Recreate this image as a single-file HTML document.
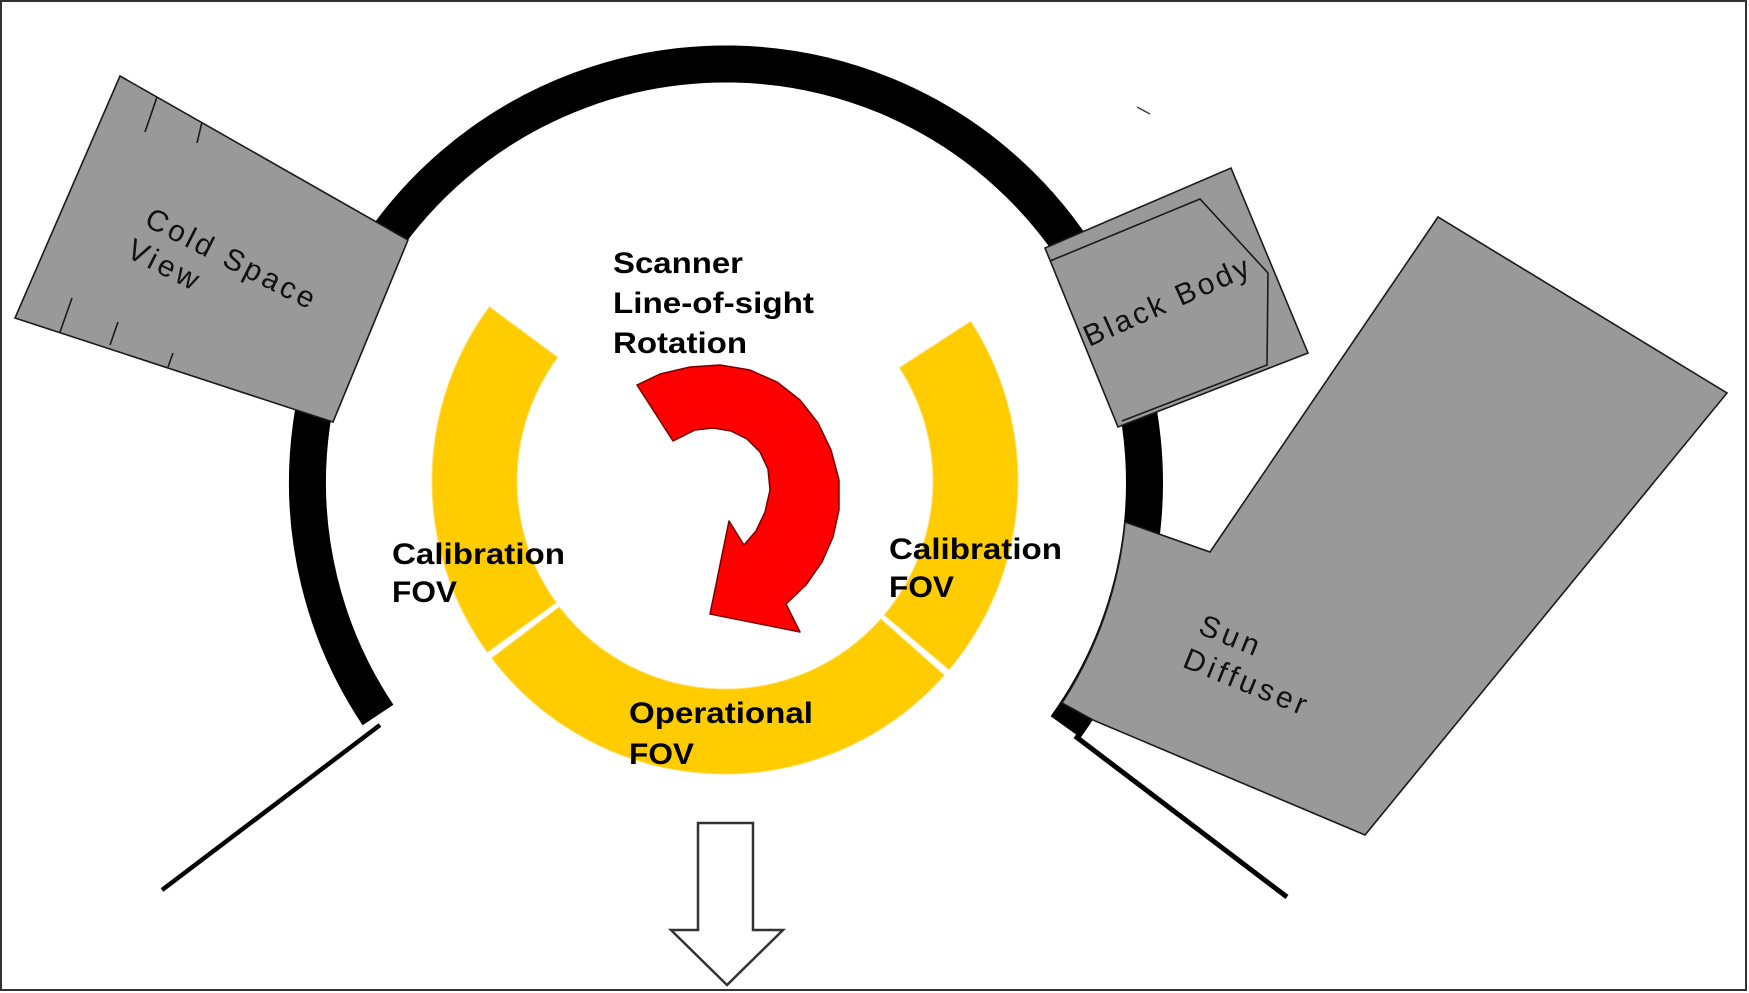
<!DOCTYPE html>
<html>
<head>
<meta charset="utf-8">
<style>
html,body{margin:0;padding:0;background:#fff;}
svg{display:block;}
text{font-family:"Liberation Sans",Arial,sans-serif;}
</style>
</head>
<body>
<svg width="1749" height="993" viewBox="0 0 1749 993" xmlns="http://www.w3.org/2000/svg">
<rect x="0" y="0" width="1749" height="993" fill="#fff"/>
<!-- frame -->
<rect x="1" y="1" width="1745" height="989" fill="none" stroke="#333" stroke-width="2"/>

<!-- main black ring -->
<path d="M378.0,715.0 A418.5,418.5 0 1 1 1065.6,727.0" fill="none" stroke="#000" stroke-width="37"/>

<!-- diagonal lines at bottom -->
<line x1="380" y1="725" x2="162" y2="890" stroke="#000" stroke-width="4.5"/>
<line x1="1075" y1="736" x2="1287" y2="897" stroke="#000" stroke-width="5"/>

<!-- small tick near top -->
<line x1="1137" y1="107" x2="1150" y2="114" stroke="#444" stroke-width="1.5"/>

<!-- yellow FOV ring segments -->
<g fill="#FFCC00" stroke="#FFE27A" stroke-width="1">
  <path d="M487.3,652.4 A293,293 0 0 1 489.4,306.7 L557.8,357.3 A208,208 0 0 0 556.3,602.7 Z"/>
  <path d="M944.4,675.2 A293,293 0 0 1 491.6,658.1 L559.3,606.8 A208,208 0 0 0 880.8,618.9 Z"/>
  <path d="M970.7,321.4 A293,293 0 0 1 949.1,669.7 L884.1,615.0 A208,208 0 0 0 899.4,367.7 Z"/>
</g>

<!-- red rotation arrow -->
<polygon fill="#FF0000" stroke="#7a0000" stroke-width="1.5" stroke-linejoin="round"
 points="637,385 660,374 690,367 720,365 750,370 777,382 800,400 818,423 831,450 839,480 839,510 833,537 822,562 806,585 786,604 800,632 710,614 729,521 744,545 756,531 765,512 770,490 768,469 760,452 747,439 731,431 713,428 695,430 673,441"/>

<!-- Cold Space View box -->
<polygon points="120,76 408,240 333,422 15,318" fill="#999" stroke="#1a1a1a" stroke-width="1.6"/>
<g stroke="#1a1a1a" stroke-width="1.6">
  <line x1="157" y1="97" x2="145" y2="132"/>
  <line x1="202" y1="122" x2="197" y2="143"/>
  <line x1="72" y1="298" x2="60" y2="332"/>
  <line x1="118" y1="322" x2="110" y2="345"/>
  <line x1="173" y1="353" x2="168" y2="367"/>
</g>
<g transform="translate(143,225) rotate(27)">
  <text x="0" y="0" font-size="30" fill="#111" textLength="186" lengthAdjust="spacing">Cold Space</text>
  <text x="-2" y="36" font-size="30" fill="#111" textLength="76" lengthAdjust="spacing">View</text>
</g>

<!-- Black Body box -->
<polygon points="1231,168 1308,353 1118,427 1045,248" fill="#999" stroke="#1a1a1a" stroke-width="1.6"/>
<polyline points="1050,261 1200,199 1268,273 1267,365 1122,421" fill="none" stroke="#1a1a1a" stroke-width="1.6"/>
<g transform="translate(1089,347) rotate(-24)">
  <text x="0" y="0" font-size="30" fill="#111" textLength="178" lengthAdjust="spacing">Black Body</text>
</g>

<!-- Sun Diffuser -->
<path d="M1125,522 L1210,552 L1438,217 L1727,393 L1365,835 L1093,720 L1062,703 A403,403 0 0 0 1125,522 Z" fill="#999" stroke="#1a1a1a" stroke-width="1.6"/>
<g transform="translate(1197,633) rotate(22)">
  <text x="0" y="0" font-size="30" fill="#111" textLength="62" lengthAdjust="spacing">Sun</text>
  <text x="-2" y="37" font-size="30" fill="#111" textLength="130" lengthAdjust="spacing">Diffuser</text>
</g>

<!-- labels -->
<g font-weight="bold" font-size="30" fill="#000">
  <text x="613" y="273" textLength="130" lengthAdjust="spacingAndGlyphs">Scanner</text>
  <text x="613" y="313" textLength="201" lengthAdjust="spacingAndGlyphs">Line-of-sight</text>
  <text x="613" y="353" textLength="134" lengthAdjust="spacingAndGlyphs">Rotation</text>

  <text x="392" y="564" textLength="173" lengthAdjust="spacingAndGlyphs">Calibration</text>
  <text x="392" y="602" textLength="65" lengthAdjust="spacingAndGlyphs">FOV</text>

  <text x="889" y="559" textLength="173" lengthAdjust="spacingAndGlyphs">Calibration</text>
  <text x="889" y="597" textLength="65" lengthAdjust="spacingAndGlyphs">FOV</text>

  <text x="629" y="723" textLength="184" lengthAdjust="spacingAndGlyphs">Operational</text>
  <text x="629" y="764" textLength="65" lengthAdjust="spacingAndGlyphs">FOV</text>
</g>

<!-- bottom direction arrow -->
<polygon points="698,823 753,823 753,930 783,930 727,985 671,930 698,930" fill="#fff" stroke="#333" stroke-width="2.5" stroke-linejoin="miter"/>
</svg>
</body>
</html>
